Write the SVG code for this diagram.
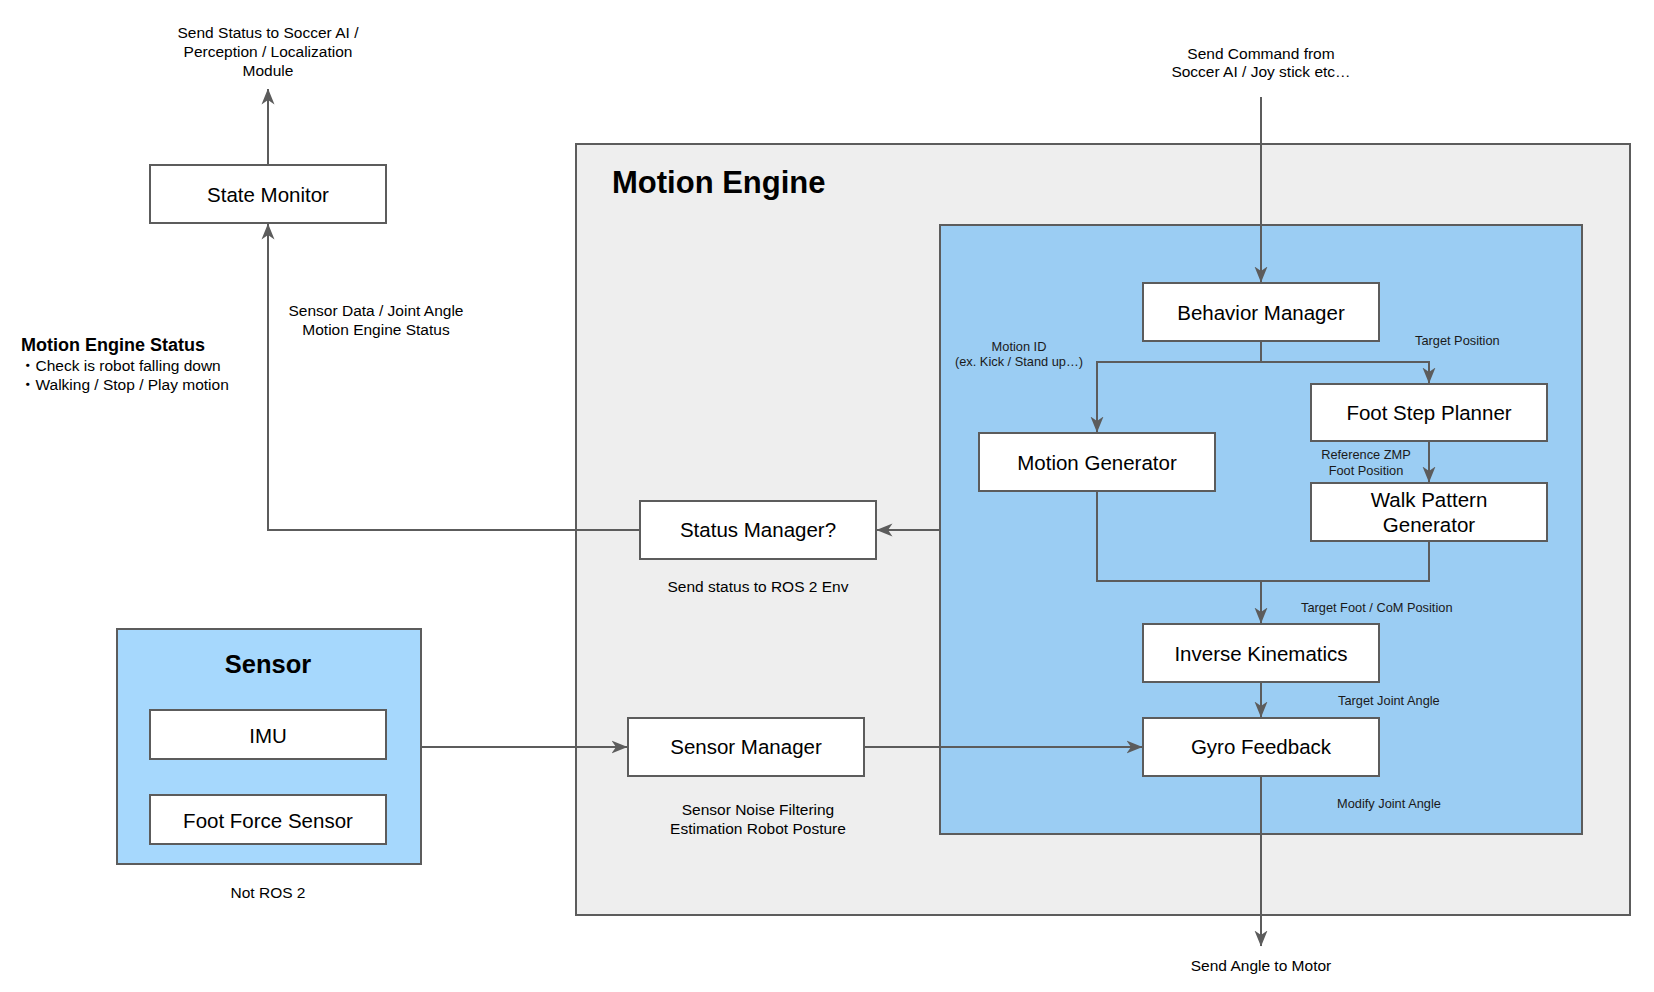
<svg xmlns="http://www.w3.org/2000/svg" width="1654" height="992" viewBox="0 0 1654 992">
<defs>
<style>
text{font-family:"Liberation Sans",Arial,"Noto Sans CJK JP",sans-serif;fill:#000}
.node{fill:#fff;stroke:#5c5c5c;stroke-width:2}
.nt{font-size:20.5px;text-anchor:middle}
.lbl{font-size:15.5px}
.sm{font-size:12.8px;fill:#1a1a1a}
.c{text-anchor:middle}
.conn{fill:none;stroke:#5c5c5c;stroke-width:2}
</style>
<marker id="arr" viewBox="0 0 16 14" markerWidth="16" markerHeight="14" refX="15.5" refY="7" orient="auto" markerUnits="userSpaceOnUse">
<path d="M0,0.5 L16,7 L0,13.5 L4.5,7 Z" fill="#5c5c5c"/>
</marker>
</defs>
<rect width="1654" height="992" fill="#fff"/>

<g id="motion-engine">
<rect x="576" y="144" width="1054" height="771" fill="#eeeeee" stroke="#5c5c5c" stroke-width="2"/>
<text x="612" y="193" font-size="31" font-weight="bold">Motion Engine</text>
</g>
<g id="motion-core">
<rect x="940" y="225" width="642" height="609" fill="#9bcdf3" stroke="#5c5c5c" stroke-width="2"/>
</g>
<g id="sensor">
<rect x="117" y="629" width="304" height="235" fill="#a6d8fd" stroke="#5c5c5c" stroke-width="2"/>
<text x="268" y="673" font-size="25.5" font-weight="bold" text-anchor="middle">Sensor</text>
</g>

<g id="connectors">
<path class="conn" d="M268,165 V89" marker-end="url(#arr)"/>
<path class="conn" d="M640,530 H268 V224" marker-end="url(#arr)"/>
<path class="conn" d="M940,530 H877" marker-end="url(#arr)"/>
<path class="conn" d="M1261,97 V282" marker-end="url(#arr)"/>
<path class="conn" d="M1261,341 V362 H1097 V432" marker-end="url(#arr)"/>
<path class="conn" d="M1261,362 H1429 V383" marker-end="url(#arr)"/>
<path class="conn" d="M1429,441 V482" marker-end="url(#arr)"/>
<path class="conn" d="M1097,491 V581 H1429 V541"/>
<path class="conn" d="M1261,581 V623" marker-end="url(#arr)"/>
<path class="conn" d="M1261,682 V717" marker-end="url(#arr)"/>
<path class="conn" d="M1261,776 V946" marker-end="url(#arr)"/>
<path class="conn" d="M421,747 H627" marker-end="url(#arr)"/>
<path class="conn" d="M864,747 H1142" marker-end="url(#arr)"/>
</g>

<g id="state-monitor"><rect class="node" x="150" y="165" width="236" height="58"/><text class="nt" x="268" y="201.5">State Monitor</text></g>
<g id="behavior-manager"><rect class="node" x="1143" y="283" width="236" height="58"/><text class="nt" x="1261" y="319.5">Behavior Manager</text></g>
<g id="foot-step-planner"><rect class="node" x="1311" y="384" width="236" height="57"/><text class="nt" x="1429" y="420">Foot Step Planner</text></g>
<g id="motion-generator"><rect class="node" x="979" y="433" width="236" height="58"/><text class="nt" x="1097" y="469.5">Motion Generator</text></g>
<g id="walk-pattern-generator"><rect class="node" x="1311" y="483" width="236" height="58"/><text class="nt" x="1429" y="506.5">Walk Pattern</text><text class="nt" x="1429" y="531.5">Generator</text></g>
<g id="status-manager"><rect class="node" x="640" y="501" width="236" height="58"/><text class="nt" x="758" y="536.5">Status Manager?</text></g>
<g id="inverse-kinematics"><rect class="node" x="1143" y="624" width="236" height="58"/><text class="nt" x="1261" y="660.5">Inverse Kinematics</text></g>
<g id="gyro-feedback"><rect class="node" x="1143" y="718" width="236" height="58"/><text class="nt" x="1261" y="753.5">Gyro Feedback</text></g>
<g id="sensor-manager"><rect class="node" x="628" y="718" width="236" height="58"/><text class="nt" x="746" y="753.5">Sensor Manager</text></g>
<g id="imu"><rect class="node" x="150" y="710" width="236" height="49"/><text class="nt" x="268" y="742.5">IMU</text></g>
<g id="foot-force-sensor"><rect class="node" x="150" y="795" width="236" height="49"/><text class="nt" x="268" y="827.5">Foot Force Sensor</text></g>

<g id="labels">
<text class="lbl c" x="268" y="38">Send Status to Soccer AI /</text>
<text class="lbl c" x="268" y="57">Perception / Localization</text>
<text class="lbl c" x="268" y="76">Module</text>
<text class="lbl c" x="1261" y="59">Send Command from</text>
<text class="lbl c" x="1261" y="77">Soccer AI / Joy stick etc…</text>
<text class="lbl c" x="376" y="316">Sensor Data / Joint Angle</text>
<text class="lbl c" x="376" y="335">Motion Engine Status</text>
<text x="21" y="351" font-size="18" font-weight="bold">Motion Engine Status</text>
<text class="lbl" x="20" y="371">・Check is robot falling down</text>
<text class="lbl" x="20" y="390">・Walking / Stop / Play motion</text>
<text class="lbl c" x="758" y="592">Send status to ROS 2 Env</text>
<text class="lbl c" x="758" y="815">Sensor Noise Filtering</text>
<text class="lbl c" x="758" y="834">Estimation Robot Posture</text>
<text class="lbl c" x="268" y="898">Not ROS 2</text>
<text class="lbl c" x="1261" y="971">Send Angle to Motor</text>
<text class="sm c" x="1019" y="351">Motion ID</text>
<text class="sm c" x="1019" y="366">(ex. Kick / Stand up…)</text>
<text class="sm" x="1415" y="345">Target Position</text>
<text class="sm c" x="1366" y="459">Reference ZMP</text>
<text class="sm c" x="1366" y="475">Foot Position</text>
<text class="sm" x="1301" y="612">Target Foot / CoM Position</text>
<text class="sm" x="1338" y="705">Target Joint Angle</text>
<text class="sm" x="1337" y="808">Modify Joint Angle</text>
</g>
</svg>
